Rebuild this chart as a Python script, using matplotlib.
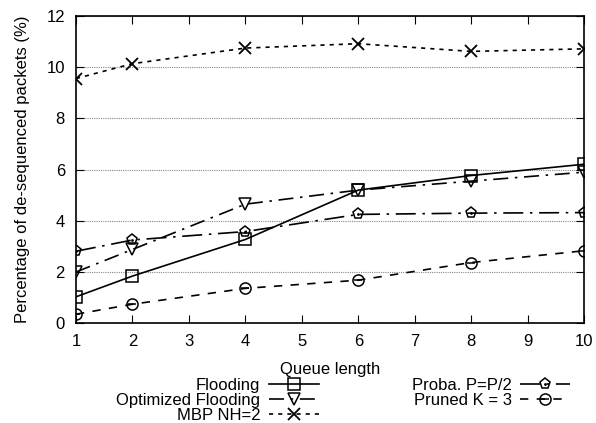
import matplotlib.pyplot as plt
from matplotlib.lines import Line2D
from matplotlib.legend_handler import HandlerTuple

plt.rcParams['font.family'] = ['Liberation Sans', 'DejaVu Sans']

queue = [1, 2, 4, 6, 8, 10]
flooding = [1.03, 1.84, 3.27, 5.2, 5.77, 6.21]
optimized = [2.0, 2.88, 4.65, 5.2, 5.55, 5.9]
mbp = [9.56, 10.14, 10.75, 10.92, 10.62, 10.72]
proba = [2.81, 3.25, 3.58, 4.25, 4.3, 4.32]
pruned = [0.35, 0.74, 1.36, 1.68, 2.37, 2.83]

fig = plt.figure(figsize=(5.96, 4.23), dpi=100)
ax = fig.add_axes([0.1275, 0.236, 0.8525, 0.726])

fs = 12
ms = 8
k = 'black'

ax.plot(queue, flooding, color=k, lw=1.2, ls='-', marker='s', ms=ms,
        mfc='none', mec=k, mew=1.1)
ax.plot(queue, optimized, color=k, lw=1.2, ls=(0, (9, 4, 1.5, 4)), marker='v', ms=ms,
        mfc='none', mec=k, mew=1.1)
ax.plot(queue, mbp, color=k, lw=1.2, ls=(0, (2.5, 3)), marker='x', ms=ms,
        mec=k, mew=1.3)
ax.plot(queue, proba, color=k, lw=1.2, ls=(0, (12, 4, 1.5, 4)), marker='p', ms=ms,
        mfc='none', mec=k, mew=1.1)
ax.plot(queue, proba, ls='none', marker='.', ms=2, color=k)
ax.plot(queue, pruned, color=k, lw=1.2, ls=(0, (5, 5)), marker='o', ms=ms,
        mfc='none', mec=k, mew=1.1)
ax.plot(queue, pruned, ls='none', marker='_', ms=6, mew=1.1, color=k)

ax.set_xlim(1, 10)
ax.set_ylim(0, 12)
ax.set_xticks(range(1, 11))
ax.set_yticks(range(0, 13, 2))
ax.yaxis.grid(True, color='#888888', ls=(0, (1, 1)), lw=0.8)
ax.tick_params(direction='in', top=True, right=True, length=6, labelsize=fs)
ax.tick_params(axis='y', pad=8)
ax.tick_params(axis='x', pad=8)
for s in ax.spines.values():
    s.set_linewidth(1.2)

ax.set_ylabel('Percentage of de-sequenced packets (%)', fontsize=fs, labelpad=12)
ax.set_xlabel('Queue length', fontsize=fs, labelpad=9)

handles = [
    Line2D([], [], color=k, lw=1.2, ls='-', marker='s', ms=ms, mfc='none', mew=1.1),
    Line2D([], [], color=k, lw=1.2, ls=(0, (9, 4, 1.5, 4)), marker='v', ms=ms, mfc='none', mew=1.1),
    Line2D([], [], color=k, lw=1.2, ls=(0, (2.5, 3)), marker='x', ms=ms, mew=1.3),
    (Line2D([], [], color=k, lw=1.2, ls=(0, (12, 4, 1.5, 4)), marker='p', ms=ms, mfc='none', mew=1.1),
     Line2D([], [], ls='none', marker='.', ms=2, color=k)),
    (Line2D([], [], color=k, lw=1.2, ls=(0, (5, 5)), marker='o', ms=ms, mfc='none', mew=1.1),
     Line2D([], [], ls='none', marker='_', ms=6, mew=1.1, color=k)),
]
labels = ['Flooding', 'Optimized Flooding', 'MBP NH=2', 'Proba. P=P/2', 'Pruned K = 3']
fig.legend(handles, labels, ncol=2, loc='upper center', bbox_to_anchor=(0.576, 0.123),
           frameon=False, markerfirst=False, fontsize=fs, handlelength=3.0,
           labelspacing=0.0, columnspacing=5.6, borderaxespad=0, handletextpad=0.5,
           handler_map={tuple: HandlerTuple(ndivide=1, pad=0)})

fig.savefig('out.png', dpi=100)
